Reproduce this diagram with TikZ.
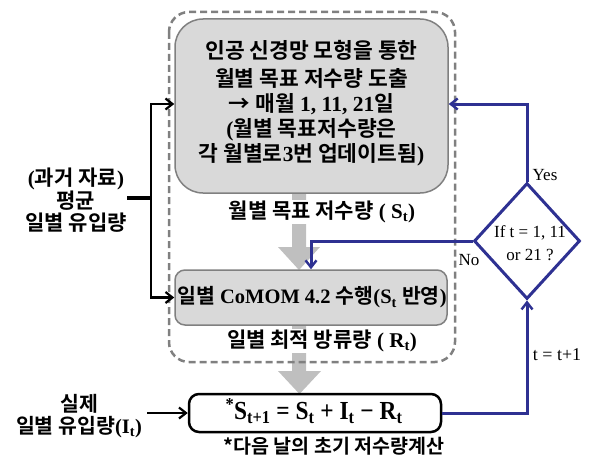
\documentclass[tikz,border=0pt]{standalone}
\usepackage{fontspec}
\usepackage{graphicx}
\setmainfont{Liberation Serif}
\newfontfamily\kr[BoldFont={Noto Sans CJK KR Bold}]{Noto Sans CJK KR}
\usetikzlibrary{shapes.geometric,arrows.meta}
\newcommand{\K}[1]{{\kr\bfseries #1}}
\newcommand{\Bs}[1]{\textbf{#1}}
\definecolor{navy}{RGB}{46,49,146}
\definecolor{boxfill}{RGB}{217,217,217}
\definecolor{boxline}{RGB}{128,128,128}
\definecolor{fatarrow}{RGB}{191,191,191}
\tikzset{
  graybox/.style={draw=boxline,fill=boxfill,line width=1.5pt,rounded corners=28pt},
  smallbox/.style={draw=boxline,fill=boxfill,line width=1.5pt,rounded corners=10pt},
  bararrow/.style={-{Straight Barb[length=7pt,width=11pt,line width=2.2pt]},line width=2.5pt},
  bluearrow/.style={navy,line width=3pt,-{Straight Barb[length=7pt,width=11pt,line width=2.4pt]}},
  lbl/.style={fill=white,inner sep=1pt},
}
\begin{document}
\begin{tikzpicture}[x=1pt,y=-1pt]
\useasboundingbox (0,0) rectangle (589,460);
% fat gray arrows
\fill[fatarrow] (292,193) -- (306,193) -- (306,247) -- (320,247) -- (299,270) -- (278,247) -- (292,247) -- cycle;
\fill[fatarrow] (292,325) -- (306,325) -- (306,371) -- (321,371) -- (299.5,394) -- (278,371) -- (292,371) -- cycle;
% dashed frame
\draw[boxline,line width=2.5pt,dash pattern=on 7pt off 4pt,rounded corners=20pt] (169,12) rectangle (455,362);
% boxes
\node[graybox,minimum width=273pt,minimum height=174pt] (top) at (311.5,106) {};
\node[align=center,font=\fontsize{21.5}{25}\selectfont] (toptext) at (311.5,103) {%
\K{인공 신경망 모형을 통한}\\[3pt]
\K{월별 목표 저수량 도출}\\
\K{→ 매월} \Bs{1, 11, 21}\K{일}\\
\Bs{(}\K{월별 목표저수량은}\\
\K{각 월별로}\Bs{3}\K{번 업데이트됨}\Bs{)}};
\node[smallbox,minimum width=272pt,minimum height=55pt] (comom) at (311,297.5) {};
\node[font=\fontsize{20.5}{22}\selectfont,inner sep=0pt] (comomtext) at (312,297.5) {\K{일별} \Bs{CoMOM 4.2} \K{수행}\Bs{(S\textsubscript{t}} \K{반영}\Bs{)}};
\node[draw=black,line width=2.5pt,rounded corners=10pt,minimum width=252pt,minimum height=38pt,inner sep=0pt] (eq) at (315,413) {};
\node[font=\fontsize{26}{28}\selectfont] (eqtext) at (314,411) {\scalebox{0.9}[1]{\Bs{\textsuperscript{*}S\textsubscript{t+1} = S\textsubscript{t} + I\textsubscript{t} − R\textsubscript{t}}}};
\node[font=\fontsize{19.5}{20}\selectfont,inner sep=0pt] (note) at (334,446) {\K{*다음 날의 초기 저수량계산}};
% labels on fat arrows
\node[lbl,font=\fontsize{21}{22}\selectfont] (st) at (322,212) {\K{월별 목표 저수량} \Bs{( S\textsubscript{t})}};
\node[lbl,font=\fontsize{21}{22}\selectfont] (rt) at (322,341) {\K{일별 최적 방류량} \Bs{( R\textsubscript{t})}};
% left texts
\node[align=center,font=\fontsize{21}{22}\selectfont,inner sep=0pt] (past) at (76,200) {\Bs{(}\K{과거 자료}\Bs{)}\\\K{평균}\\\K{일별 유입량}};
\coordinate (j) at (151,198);
\node[align=center,font=\fontsize{20.5}{22}\selectfont,inner sep=0pt] (real) at (79,416) {\K{실제}\\\K{일별 유입량}\Bs{(I\textsubscript{t})}};
% diamond
\node[diamond,draw=navy,line width=3pt,minimum width=106pt,minimum height=116pt,inner sep=0pt] (dia) at (527,241) {};
\node[align=center,font=\fontsize{17}{23}\selectfont] (diatext) at (530,243) {If t = 1, 11\\or 21 ?};
\node[font=\fontsize{17}{18}\selectfont] (yes) at (545,175) {Yes};
\node[font=\fontsize{17}{18}\selectfont] (no) at (469,260) {No};
\node[font=\fontsize{18}{19}\selectfont] (tt) at (557,355) {t = t+1};
% connectors
\draw[line width=3.5pt] (127,198) -- (j);
\draw[bararrow] (j) |- (top.west |- 0,104);
\draw[bararrow] (j) |- (comom.west);
\draw[bararrow] (147,413) -- (eq.west);
\draw[bluearrow] (dia.north) |- (top.east |- 0,104);
\draw[bluearrow] (dia.west) -| (comom.north);
\draw[bluearrow] (eq.east) -| (dia.south);
\end{tikzpicture}
\end{document}
